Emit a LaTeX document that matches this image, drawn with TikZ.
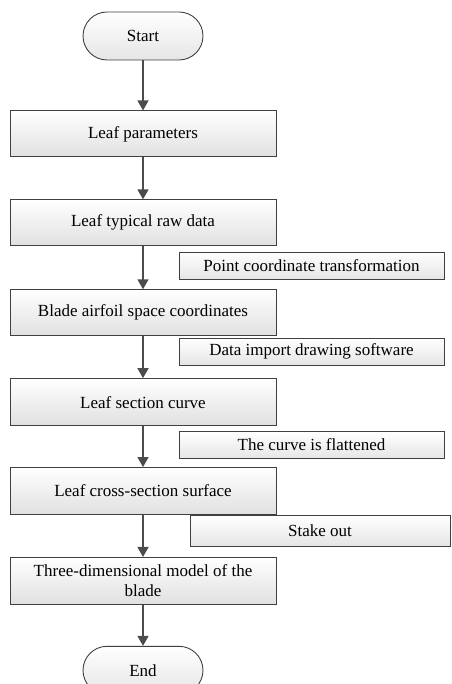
\documentclass[tikz,border=0pt]{standalone}
\usepackage{fontspec}
\setmainfont{Liberation Serif}
\usetikzlibrary{positioning,arrows.meta}

\tikzset{
  process/.style={draw=black!75, line width=0.9pt, shading=axis, top color=white, bottom color=black!12,
    minimum width=266pt, minimum height=46pt, align=center, font=\fontsize{17}{20}\selectfont},
  note/.style={draw=black!75, line width=0.9pt, shading=axis, top color=white, bottom color=black!10,
    minimum height=27pt, align=center, font=\fontsize{17}{20}\selectfont},
  terminal/.style={draw=black!75, line width=0.9pt, shading=axis, top color=white, bottom color=black!10,
    rounded corners=24pt, minimum width=120pt, minimum height=48pt, font=\fontsize{17}{20}\selectfont},
  flow/.style={-{Triangle[length=10pt,width=11pt]}, line width=1.5pt, draw=black!70}
}

\begin{document}
\begin{tikzpicture}
\useasboundingbox (0,0) rectangle (451pt,-684pt);

% main chain
\node[terminal] (start) at (143pt,-36pt) {Start};
\node[process, below=50pt of start] (param) {Leaf parameters};
\node[process, below=42pt of param] (raw) {Leaf typical raw data};
\node[process, below=43pt of raw] (space) {Blade airfoil space coordinates};
\node[process, below=42pt of space, minimum height=47pt] (section) {Leaf section curve};
\node[process, below=41pt of section, minimum height=47pt] (surface) {Leaf cross-section surface};
\node[process, below=42pt of surface, minimum height=47pt] (model) {Three-dimensional model of the\\blade};
\node[terminal, below=41pt of model] (end) {End};

% side notes
\node[note, minimum width=265pt] (transform) at (311.5pt,-265.5pt) {Point coordinate transformation};
\node[note, minimum width=265pt] (import) at (311.5pt,-351.5pt) {Data import drawing software};
\node[note, minimum width=265pt] (flatten) at (311.5pt,-445pt) {The curve is flattened};
\node[note, minimum width=260pt, minimum height=31pt] (stake) at (320pt,-530.5pt) {Stake out};

% arrows
\draw[flow] (start) -- (param);
\draw[flow] (param) -- (raw);
\draw[flow] (raw) -- (space);
\draw[flow] (space) -- (section);
\draw[flow] (section) -- (surface);
\draw[flow] (surface) -- (model);
\draw[flow] (model) -- (end);
\end{tikzpicture}
\end{document}
